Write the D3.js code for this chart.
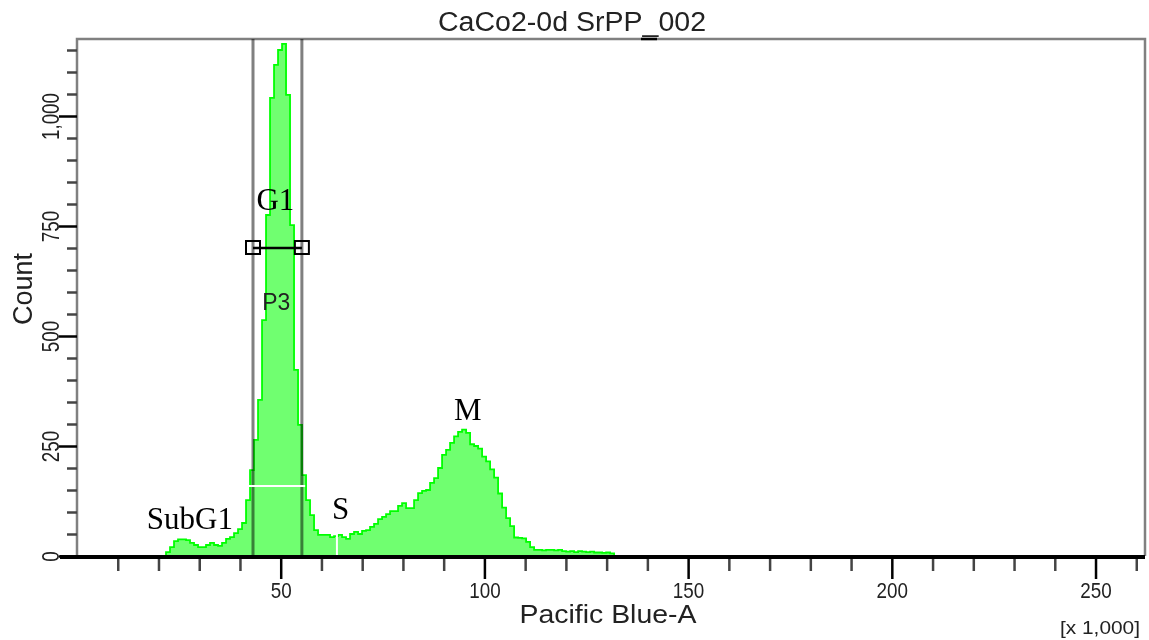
<!DOCTYPE html>
<html>
<head>
<meta charset="utf-8">
<script src="https://cdn.jsdelivr.net/npm/d3@7"></script>
<style>
body{margin:0;background:#fff;}
svg{display:block;}
</style>
</head>
<body>
<svg id="chart" width="1149" height="640"></svg>
<script>
// histogram of Pacific Blue-A (x1,000), one count per bin
const bin_start=21.85;
const bin_width=0.982;
const bin_counts=[
    9,20,34,38,38,36,30,25,20,20,
    25,30,25,23,30,39,43,52,61,75,
    127,195,264,355,536,775,1041,1116,1150,1164,
    1048,752,423,298,184,127,93,59,48,48,
    48,43,45,48,43,39,50,55,50,57,
    59,66,73,84,89,95,102,102,114,120,
    109,109,127,143,148,150,166,177,200,230,
    241,257,272,282,287,280,254,250,244,226,
    215,197,178,142,110,86,68,42,41,40,
    32,20,14,14,13,14,14,13,14,11,
    10,11,9,11,10,9,10,8,8,7,
    8,6
];

// axes
const x_domain=[0,262.144];
const y_domain=[0,1175];
const x_major_ticks=[50,100,150,200,250];
const x_major_labels=["50","100","150","200","250"];
const x_minor_ticks=[10,20,30,40,60,70,80,90,110,120,130,140,160,170,180,190,210,220,230,240,260];
const y_major_ticks=[0,250,500,750,1000];
const y_major_labels=["0","250","500","750","1,000"];
const y_minor_ticks=[50,100,150,200,300,350,400,450,550,600,650,700,800,850,900,950,1050,1100,1150];

// gate P3 and phase labels (data units)
const gate_p3=[43.2,55.2];
const gate_marker_count=700;
const phase_labels=["SubG1","G1","S","M"];
const phase_x=[27.7,48.7,64.7,95.9];
const phase_count=[61,786,83,309];
const cursor_h=[42.2,56,159];   // white cursor line: from, to, count
const cursor_v=[63.8,0,50];     // white cursor line: x, from, to

const title_text="CaCo2-0d SrPP_002";
const x_label="Pacific Blue-A";
const y_label="Count";
const x_unit="[x 1,000]";

const svg=d3.select("#chart");
const pix_font="'Liberation Sans',Arial,sans-serif";
const serif_font="'Liberation Serif','Times New Roman',serif";

// squeezed width of the bitmap-like tick labels
function label_len(s){
    let w=0;
    for(const ch of s) w+=(ch===","?5:10.5);
    return w;
}

const x=d3.scaleLinear().domain(x_domain).range([77,1145]);
const y=d3.scaleLinear().domain(y_domain).range([556,39]);

// frame (top / right / left in gray)
svg.append("path")
    .attr("d",`M${x(x_domain[0])},${y(0)}V${y(y_domain[1])}H${x(x_domain[1])}V${y(0)}`)
    .attr("fill","none")
    .attr("stroke","#808080")
    .attr("stroke-width",2.5);
svg.append("line")
    .attr("x1",641).attr("x2",657)
    .attr("y1",y(y_domain[1])).attr("y2",y(y_domain[1]))
    .attr("stroke","black")
    .attr("stroke-width",2.5);

// histogram
const pts=bin_counts.map((c,i)=>[bin_start+i*bin_width,c]);
pts.push([bin_start+bin_counts.length*bin_width,0]);

const area=d3.area()
    .x(d=>x(d[0]))
    .y0(y(0))
    .y1(d=>y(d[1]))
    .curve(d3.curveStepAfter);
svg.append("path")
    .datum(pts)
    .attr("d",area)
    .attr("fill","#70ff70");

const outline=d3.line()
    .x(d=>x(d[0]))
    .y(d=>y(d[1]))
    .curve(d3.curveStepAfter);
svg.append("path")
    .datum([[bin_start,0]].concat(pts))
    .attr("d",outline)
    .attr("fill","none")
    .attr("stroke","#00ff00")
    .attr("stroke-width",1.8);

// gate lines (darker where they cross the fill)
for(const g of gate_p3){
    svg.append("line")
        .attr("x1",x(g)).attr("x2",x(g))
        .attr("y1",y(y_domain[1])).attr("y2",y(0))
        .attr("stroke","#808080")
        .attr("stroke-width",3)
        .style("mix-blend-mode","multiply");
}

// gate marker
svg.append("line")
    .attr("x1",x(gate_p3[0])).attr("x2",x(gate_p3[1]))
    .attr("y1",y(gate_marker_count)).attr("y2",y(gate_marker_count))
    .attr("stroke","black")
    .attr("stroke-width",2.5);
for(const g of gate_p3){
    svg.append("rect")
        .attr("x",x(g)-7).attr("y",y(gate_marker_count)-7)
        .attr("width",14).attr("height",13)
        .attr("fill","none")
        .attr("stroke","black")
        .attr("stroke-width",2);
}
svg.append("text")
    .attr("x",x(48.9)).attr("y",y(560))
    .attr("text-anchor","middle")
    .attr("font-family",pix_font)
    .attr("font-size",24)
    .attr("textLength",28)
    .attr("lengthAdjust","spacingAndGlyphs")
    .attr("fill","#222")
    .text("P3");

// white cursor marks
svg.append("line")
    .attr("x1",x(cursor_h[0])).attr("x2",x(cursor_h[1]))
    .attr("y1",y(cursor_h[2])).attr("y2",y(cursor_h[2]))
    .attr("stroke","white").attr("stroke-width",2);
svg.append("line")
    .attr("x1",x(cursor_v[0])).attr("x2",x(cursor_v[0]))
    .attr("y1",y(cursor_v[1])).attr("y2",y(cursor_v[2]))
    .attr("stroke","white").attr("stroke-width",2);

// x axis
const x_minor=svg.append("g")
    .attr("transform",`translate(0,${y(0)+1})`)
    .call(d3.axisBottom(x).tickValues(x_minor_ticks).tickSize(14).tickFormat(""));
const x_major=svg.append("g")
    .attr("transform",`translate(0,${y(0)+1})`)
    .call(d3.axisBottom(x).tickValues(x_major_ticks).tickSize(22)
        .tickFormat((d,i)=>x_major_labels[i]));
x_minor.select(".domain").remove();
x_major.select(".domain").remove();
x_minor.selectAll("line").attr("stroke","#444").attr("stroke-width",2.5);
x_major.selectAll("line").attr("stroke","black").attr("stroke-width",2.5);
x_major.selectAll("text")
    .attr("y",41)
    .attr("dy",null)
    .attr("font-family",pix_font)
    .attr("font-size",22)
    .attr("textLength",(d,i)=>label_len(x_major_labels[i]))
    .attr("lengthAdjust","spacingAndGlyphs")
    .attr("fill","#222");

// y axis
const y_minor=svg.append("g")
    .attr("transform",`translate(${x(0)},0)`)
    .call(d3.axisLeft(y).tickValues(y_minor_ticks).tickSize(10).tickFormat(""));
const y_major=svg.append("g")
    .attr("transform",`translate(${x(0)},0)`)
    .call(d3.axisLeft(y).tickValues(y_major_ticks).tickSize(18)
        .tickFormat((d,i)=>y_major_labels[i]));
y_minor.select(".domain").remove();
y_major.select(".domain").remove();
y_minor.selectAll("line").attr("stroke","#444").attr("stroke-width",2.5);
y_major.selectAll("line").attr("stroke","black").attr("stroke-width",2.5);
y_major.selectAll("text")
    .attr("transform","rotate(-90)")
    .attr("x",0)
    .attr("y",-18)
    .attr("dy",null)
    .attr("text-anchor","middle")
    .attr("font-family",pix_font)
    .attr("font-size",24)
    .attr("textLength",(d,i)=>label_len(y_major_labels[i]))
    .attr("lengthAdjust","spacingAndGlyphs")
    .attr("fill","#222");

// x axis base line
svg.append("line")
    .attr("x1",x(0)-17).attr("x2",x(x_domain[1]))
    .attr("y1",y(0)+1).attr("y2",y(0)+1)
    .attr("stroke","black")
    .attr("stroke-width",4);

// phase labels
phase_labels.forEach((lab,i)=>{
    svg.append("text")
        .attr("x",x(phase_x[i]))
        .attr("y",y(phase_count[i]))
        .attr("text-anchor","middle")
        .attr("font-family",serif_font)
        .attr("font-size",31)
        .attr("fill","black")
        .text(lab);
});

// titles
svg.append("text")
    .attr("x",572).attr("y",31)
    .attr("text-anchor","middle")
    .attr("font-family",pix_font)
    .attr("font-size",27)
    .attr("textLength",268)
    .attr("lengthAdjust","spacingAndGlyphs")
    .attr("fill","#222")
    .text(title_text);

svg.append("text")
    .attr("x",608).attr("y",623)
    .attr("text-anchor","middle")
    .attr("font-family",pix_font)
    .attr("font-size",26)
    .attr("textLength",177)
    .attr("lengthAdjust","spacingAndGlyphs")
    .attr("fill","#222")
    .text(x_label);

svg.append("text")
    .attr("transform","translate(32,289) rotate(-90)")
    .attr("text-anchor","middle")
    .attr("font-family",pix_font)
    .attr("font-size",27)
    .attr("textLength",72)
    .attr("lengthAdjust","spacingAndGlyphs")
    .attr("fill","#222")
    .text(y_label);

svg.append("text")
    .attr("x",1060).attr("y",634)
    .attr("font-family",pix_font)
    .attr("font-size",18)
    .attr("textLength",80)
    .attr("lengthAdjust","spacingAndGlyphs")
    .attr("fill","#222")
    .text(x_unit);
</script>
</body>
</html>
